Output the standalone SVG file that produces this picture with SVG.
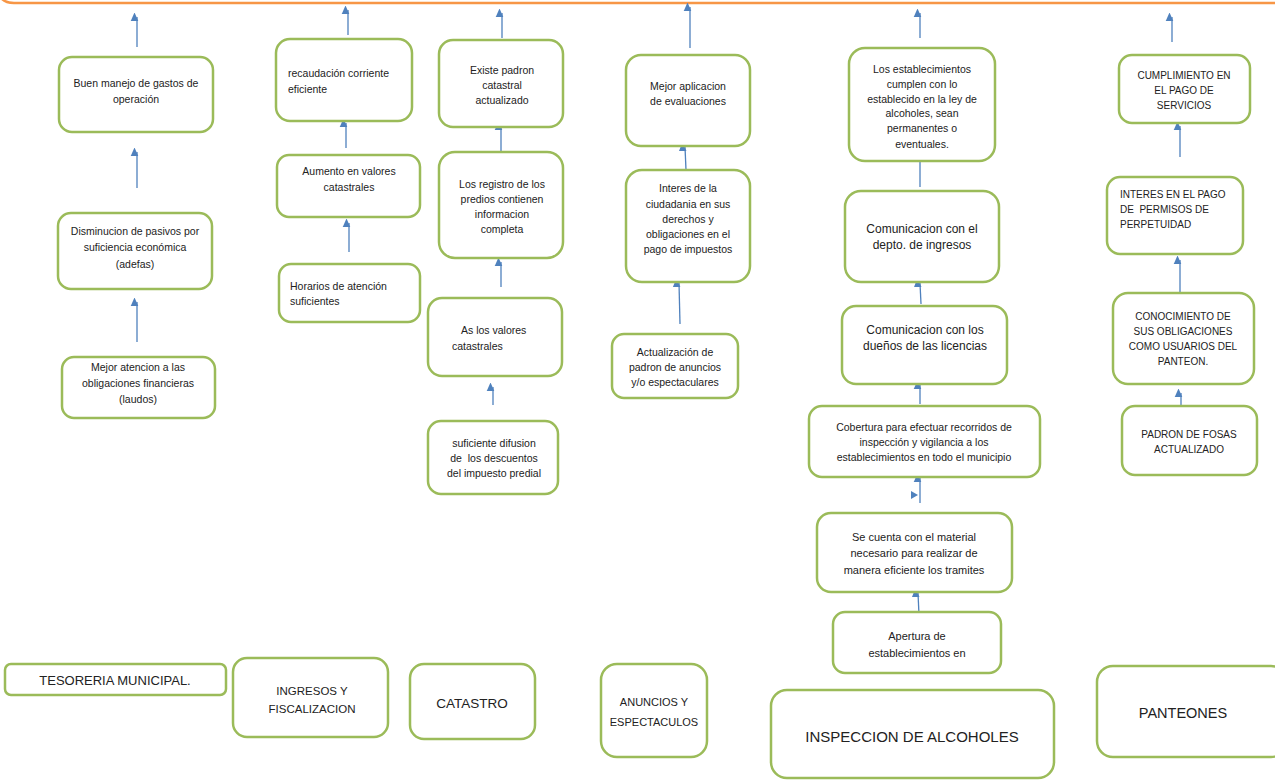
<svg xmlns="http://www.w3.org/2000/svg" width="1275" height="782" viewBox="0 0 1275 782">
<style>
.b{fill:#fff;stroke:#9BBB59;stroke-width:2.5}
.t{font-family:"Liberation Sans",Arial,sans-serif;font-size:10.5px;fill:#222;text-anchor:middle;white-space:pre}
.l{text-anchor:start}
.s10{font-size:10px}
.s11{font-size:11px}
.s12{font-size:12px}
.a{stroke:#4F81BD;stroke-width:1.3;fill:none;marker-end:url(#ah)}
</style>
<defs>
<marker id="ah" markerUnits="userSpaceOnUse" markerWidth="8" markerHeight="9" refX="4" refY="7" orient="auto-start-reverse" viewBox="0 0 8 9">
<path d="M0,9 L4,0 L8,9 Z" fill="#4F81BD" transform="rotate(90 4 4.5)"/>
</marker>
</defs>
<rect width="1275" height="782" fill="#fff"/>
<path d="M-1,-6 Q2,3 14,3 L1276,3" fill="none" stroke="#F79646" stroke-width="2.5"/>

<g id="connectors">
<line class="a" x1="137" y1="47" x2="137" y2="17"/>
<line class="a" x1="137" y1="188" x2="137" y2="152"/>
<line class="a" x1="137" y1="342" x2="137" y2="302"/>
<line class="a" x1="348" y1="35" x2="348" y2="10"/>
<line class="a" x1="346" y1="148" x2="346" y2="123"/>
<line class="a" x1="349" y1="252" x2="349" y2="223"/>
<line class="a" x1="502" y1="38" x2="502" y2="13"/>
<line class="a" x1="501" y1="155" x2="501" y2="126"/>
<line class="a" x1="501" y1="287" x2="501" y2="262"/>
<line class="a" x1="493" y1="405" x2="493" y2="387"/>
<line class="a" x1="690" y1="48" x2="690" y2="7"/>
<line class="a" x1="686" y1="170" x2="685" y2="147"/>
<line class="a" x1="680" y1="324" x2="679" y2="283"/>
<line class="a" x1="920" y1="38" x2="920" y2="13"/>
<line class="a" x1="920" y1="187" x2="920" y2="157"/>
<line class="a" x1="921" y1="304" x2="920" y2="283"/>
<line class="a" x1="920" y1="404" x2="920" y2="385"/>
<line class="a" x1="920" y1="503" x2="920" y2="478"/>
<path d="M911,491 L918,495 L911,499 Z" fill="#4F81BD"/>
<line class="a" x1="919" y1="615" x2="918" y2="593"/>
<line class="a" x1="1172" y1="42" x2="1172" y2="17"/>
<line class="a" x1="1180" y1="157" x2="1180" y2="126"/>
<line class="a" x1="1180" y1="293" x2="1180" y2="260"/>
<line class="a" x1="1181" y1="405" x2="1181" y2="393"/>
</g>

<g id="n_buen"><rect class="b" x="59" y="57" width="154" height="75" rx="13"/>
<text class="t" x="136" y="87">Buen manejo de gastos de</text><text class="t" x="136" y="103">operación</text></g>
<g id="n_dismin"><rect class="b" x="58" y="213" width="154" height="76" rx="13"/>
<text class="t" x="135" y="235">Disminucion de pasivos por</text><text class="t" x="135" y="251">suficiencia económica</text><text class="t" x="135" y="268">(adefas)</text></g>
<g id="n_mejor"><rect class="b" x="62" y="357" width="153" height="61" rx="12"/>
<text class="t" x="138" y="371">Mejor atencion a las</text><text class="t" x="138" y="387">obligaciones financieras</text><text class="t" x="138" y="403">(laudos)</text></g>

<g id="n_recaud"><rect class="b" x="276" y="39" width="136" height="82" rx="14"/>
<text class="t l" x="288" y="77">recaudación corriente</text><text class="t l" x="288" y="93">eficiente</text></g>
<g id="n_aumento"><rect class="b" x="277" y="155" width="143" height="62" rx="12"/>
<text class="t" x="349" y="175">Aumento en valores</text><text class="t" x="349" y="191">catastrales</text></g>
<g id="n_horarios"><rect class="b" x="279" y="264" width="141" height="58" rx="12"/>
<text class="t l" x="290" y="290">Horarios de atención</text><text class="t l" x="290" y="305">suficientes</text></g>

<g id="n_existe"><rect class="b" x="439" y="40" width="124" height="87" rx="14"/>
<text class="t" x="502" y="74">Existe padron</text><text class="t" x="502" y="89">catastral</text><text class="t" x="502" y="104">actualizado</text></g>
<g id="n_registro"><rect class="b" x="439" y="152" width="124" height="106" rx="16"/>
<text class="t" x="502" y="188">Los registro de los</text><text class="t" x="502" y="203">predios contienen</text><text class="t" x="502" y="218">informacion</text><text class="t" x="502" y="233">completa</text></g>
<g id="n_as"><rect class="b" x="428" y="298" width="134" height="78" rx="14"/>
<text class="t l" x="461" y="334">As los valores</text><text class="t l" x="452" y="350">catastrales</text></g>
<g id="n_sufic"><rect class="b" x="428" y="421" width="130" height="73" rx="13"/>
<text class="t" x="494" y="447">suficiente difusion</text><text class="t" x="494" y="462" xml:space="preserve">de  los descuentos</text><text class="t" x="494" y="477">del impuesto predial</text></g>

<g id="n_mejorap"><rect class="b" x="626" y="55" width="124" height="91" rx="15"/>
<text class="t" x="688" y="90">Mejor aplicacion</text><text class="t" x="688" y="105">de evaluaciones</text></g>
<g id="n_interes"><rect class="b" x="626" y="170" width="124" height="112" rx="16"/>
<text class="t" x="688" y="192">Interes de la</text><text class="t" x="688" y="208">ciudadania en sus</text><text class="t" x="688" y="223">derechos y</text><text class="t" x="688" y="238">obligaciones en el</text><text class="t" x="688" y="253">pago de impuestos</text></g>
<g id="n_actual"><rect class="b" x="612" y="334" width="126" height="64" rx="12"/>
<text class="t" x="675" y="356">Actualización de</text><text class="t" x="675" y="371">padron de anuncios</text><text class="t" x="675" y="386">y/o espectaculares</text></g>

<g id="n_establec"><rect class="b" x="849" y="48" width="146" height="113" rx="16"/>
<text class="t" x="922" y="73">Los establecimientos</text><text class="t" x="922" y="88">cumplen con lo</text><text class="t" x="922" y="103">establecido en la ley de</text><text class="t" x="922" y="117">alcoholes, sean</text><text class="t" x="922" y="132">permanentes o</text><text class="t" x="922" y="148">eventuales.</text></g>
<g id="n_depto"><rect class="b" x="845" y="191" width="154" height="91" rx="16"/>
<text class="t s12" x="922" y="233">Comunicacion con el</text><text class="t s12" x="922" y="249">depto. de ingresos</text></g>
<g id="n_duenos"><rect class="b" x="842" y="306" width="165" height="78" rx="14"/>
<text class="t s12" x="925" y="334">Comunicacion con los</text><text class="t s12" x="925" y="350">dueños de las licencias</text></g>
<g id="n_cobert"><rect class="b" x="809" y="406" width="231" height="71" rx="13"/>
<text class="t" x="924" y="431">Cobertura para efectuar recorridos de</text><text class="t" x="924" y="446">inspección y vigilancia a los</text><text class="t" x="924" y="461">establecimientos en todo el municipio</text></g>
<g id="n_material"><rect class="b" x="817" y="513" width="195" height="79" rx="14"/>
<text class="t s11" x="914" y="541">Se cuenta con el material</text><text class="t s11" x="914" y="557">necesario para realizar de</text><text class="t s11" x="914" y="574">manera eficiente los tramites</text></g>
<g id="n_apertura"><rect class="b" x="833" y="612" width="168" height="61" rx="12"/>
<text class="t s11" x="917" y="640">Apertura de</text><text class="t s11" x="917" y="657">establecimientos en</text></g>

<g id="n_cumpl"><rect class="b" x="1119" y="55" width="131" height="68" rx="13"/>
<text class="t s10" x="1184" y="79">CUMPLIMIENTO EN</text><text class="t s10" x="1184" y="94">EL PAGO DE</text><text class="t s10" x="1184" y="109">SERVICIOS</text></g>
<g id="n_perpet"><rect class="b" x="1107" y="177" width="136" height="77" rx="13"/>
<text class="t s10 l" x="1120" y="198">INTERES EN EL PAGO</text><text class="t s10 l" x="1120" y="213" xml:space="preserve">DE  PERMISOS DE</text><text class="t s10 l" x="1120" y="228">PERPETUIDAD</text></g>
<g id="n_conoc"><rect class="b" x="1113" y="293" width="141" height="91" rx="15"/>
<text class="t s10" x="1183" y="320">CONOCIMIENTO DE</text><text class="t s10" x="1183" y="335">SUS OBLIGACIONES</text><text class="t s10" x="1183" y="350">COMO USUARIOS DEL</text><text class="t s10" x="1183" y="365">PANTEON.</text></g>
<g id="n_fosas"><rect class="b" x="1122" y="406" width="135" height="69" rx="13"/>
<text class="t s10" x="1189" y="438">PADRON DE FOSAS</text><text class="t s10" x="1189" y="453">ACTUALIZADO</text></g>

<g id="n_tesoreria"><rect class="b" x="5" y="664" width="221" height="31" rx="6"/>
<text class="t" style="font-size:13px" x="115" y="685">TESORERIA MUNICIPAL.</text></g>
<g id="n_ingresos"><rect class="b" x="233" y="658" width="155" height="79" rx="14"/>
<text class="t" style="font-size:11.5px" x="312" y="695">INGRESOS Y</text><text class="t" style="font-size:11.5px" x="312" y="713">FISCALIZACION</text></g>
<g id="n_catastro"><rect class="b" x="410" y="664" width="125" height="75" rx="14"/>
<text class="t" style="font-size:13.5px" x="472" y="708">CATASTRO</text></g>
<g id="n_anuncios"><rect class="b" x="601" y="664" width="106" height="93" rx="16"/>
<text class="t" style="font-size:11px" x="654" y="706">ANUNCIOS Y</text><text class="t" style="font-size:11px" x="654" y="726">ESPECTACULOS</text></g>
<g id="n_inspeccion"><rect class="b" x="771" y="690" width="283" height="88" rx="16"/>
<text class="t" style="font-size:15px" x="912" y="742">INSPECCION DE ALCOHOLES</text></g>
<g id="n_panteones"><rect class="b" x="1097" y="666" width="190" height="91" rx="16"/>
<text class="t" style="font-size:14.5px" x="1183" y="718">PANTEONES</text></g>
</svg>
